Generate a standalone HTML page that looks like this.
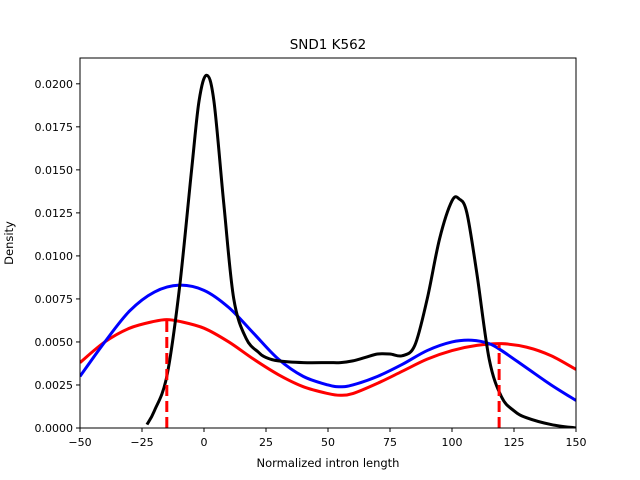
<!DOCTYPE html>
<html><head><meta charset="utf-8"><style>
body{margin:0;background:#fff}
svg{display:block;font-family:"DejaVu Sans","Liberation Sans",sans-serif}
</style></head><body>
<svg id="chart" width="640" height="480" viewBox="0 0 640 480" xmlns="http://www.w3.org/2000/svg">
<rect width="640" height="480" fill="#fff"/>
<text x="328" y="49" text-anchor="middle" font-size="13.5">SND1 K562</text>
<text x="328" y="467" text-anchor="middle" font-size="11.5">Normalized intron length</text>
<text transform="translate(13,243) rotate(-90)" text-anchor="middle" font-size="11.5">Density</text>
<g id="plot"></g>
<rect x="80" y="58" width="496" height="370" fill="none" stroke="#000" stroke-width="1"/>
</svg>
<script>
const xTicks=[-50,-25,0,25,50,75,100,125,150];
const yTicks=[0,0.0025,0.005,0.0075,0.01,0.0125,0.015,0.0175,0.02];
const yTickLabels=["0.0000","0.0025","0.0050","0.0075","0.0100","0.0125","0.0150","0.0175","0.0200"];
const blackX=[-23,-20,-15,-10,-5,-2,1,4,8,12,17,22,25,30,40,50,55,60,65,70,75,80,85,90,95,100,103,106,110,115,120,125,130,140,150];
const blackY=[0.0002,0.001,0.003,0.008,0.015,0.019,0.0205,0.019,0.013,0.0075,0.0052,0.0044,0.0041,0.0039,0.0038,0.0038,0.0038,0.0039,0.0041,0.0043,0.0043,0.0042,0.0048,0.0075,0.011,0.0132,0.0133,0.0125,0.009,0.004,0.0018,0.001,0.0006,0.0002,0.0];
const blueX=[-50,-40,-30,-20,-10,0,10,20,30,40,50,55,60,70,80,90,100,108,115,120,130,140,150];
const blueY=[0.003,0.005,0.0068,0.0079,0.0083,0.008,0.007,0.0055,0.004,0.003,0.0025,0.0024,0.0025,0.003,0.0037,0.0045,0.005,0.0051,0.0049,0.0045,0.0035,0.0025,0.0016];
const redX=[-50,-40,-30,-20,-15,-10,0,10,20,30,40,50,55,60,70,80,90,100,110,120,130,140,150];
const redY=[0.0038,0.005,0.0058,0.0062,0.0063,0.0062,0.0058,0.005,0.004,0.0031,0.0024,0.002,0.0019,0.002,0.0026,0.0033,0.004,0.0045,0.0048,0.0049,0.0047,0.0042,0.0034];
const markerX=[-15,119];
const markerY=[0.0063,0.0049];
const X0=80,X1=576,Y0=428,YT=58,xmin=-50,xmax=150,ymax=0.0215;
const sx=v=>X0+(v-xmin)/(xmax-xmin)*(X1-X0);
const sy=v=>Y0-v/ymax*(Y0-YT);
const NS="http://www.w3.org/2000/svg";
const g=document.getElementById('plot');
function mk(t,a){const e=document.createElementNS(NS,t);for(const k in a)e.setAttribute(k,a[k]);g.appendChild(e);return e;}
function path(xs,ys){const p=xs.map((x,i)=>[sx(x),sy(ys[i])]);let d=`M${p[0][0]},${p[0][1]}`;
for(let i=0;i<p.length-1;i++){const a=p[i-1]||p[i],b=p[i],c=p[i+1],e=p[i+2]||c;
d+=` C${b[0]+(c[0]-a[0])/6},${b[1]+(c[1]-a[1])/6} ${c[0]-(e[0]-b[0])/6},${c[1]-(e[1]-b[1])/6} ${c[0]},${c[1]}`;}return d;}
xTicks.forEach(v=>{const x=sx(v);
const t=mk('line',{x1:x,x2:x,y1:Y0,y2:Y0+4,stroke:'#000'});


const l=mk('text',{x:x,y:Y0+18,'text-anchor':'middle','font-size':11});l.textContent=v<0?'\u2212'+(-v):v;

});
yTicks.forEach((v,i)=>{const y=sy(v);
const t=mk('line',{x1:X0-4,x2:X0,y1:y,y2:y,stroke:'#000'});


const l=mk('text',{x:X0-7,y:y+4,'text-anchor':'end','font-size':11});l.textContent=yTickLabels[i];

});
const cp=document.createElementNS(NS,'clipPath');cp.id='clip';const cr=document.createElementNS(NS,'rect');
cr.setAttribute('x',X0);cr.setAttribute('y',YT);cr.setAttribute('width',X1-X0);cr.setAttribute('height',Y0-YT);cp.appendChild(cr);g.appendChild(cp);
const red=mk('path',{d:path(redX,redY),fill:'none',stroke:'#ff0000','stroke-width':3,'clip-path':'url(#clip)'});


const blue=mk('path',{d:path(blueX,blueY),fill:'none',stroke:'#0000ff','stroke-width':3,'clip-path':'url(#clip)'});


const black=mk('path',{d:path(blackX,blackY),fill:'none',stroke:'#000','stroke-width':3,'clip-path':'url(#clip)'});


markerX.forEach((v,i)=>{const m=mk('line',{x1:sx(v),x2:sx(v),y1:Y0,y2:sy(markerY[i]),stroke:'#ff0000','stroke-width':3,'stroke-dasharray':'11,5'});

});
</script>
</body></html>
